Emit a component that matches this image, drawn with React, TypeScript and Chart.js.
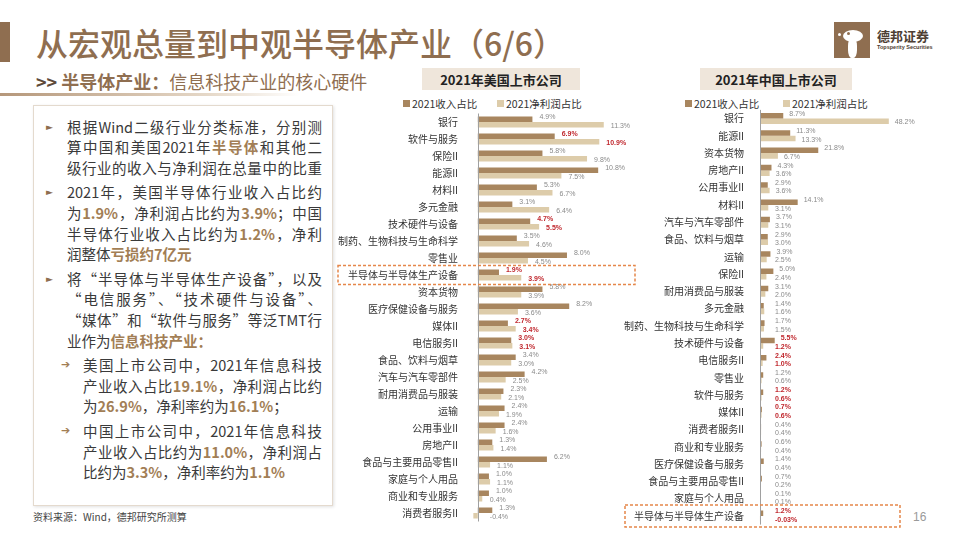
import React, { useEffect, useRef } from 'react';
import { Chart, registerables } from 'chart.js';

Chart.register(...registerables);

// ---------------- DATA ----------------
const usCategories = [
  '银行', '软件与服务', '保险II', '能源II', '材料II', '多元金融', '技术硬件与设备',
  '制药、生物科技与生命科学', '零售业', '半导体与半导体生产设备', '资本货物',
  '医疗保健设备与服务', '媒体II', '电信服务II', '食品、饮料与烟草', '汽车与汽车零部件',
  '耐用消费品与服装', '运输', '公用事业II', '房地产II', '食品与主要用品零售II',
  '家庭与个人用品', '商业和专业服务', '消费者服务II',
];
const usRevenue = [4.9, 6.9, 5.8, 10.8, 5.3, 3.1, 4.7, 3.5, 8.0, 1.9, 5.8, 8.2, 2.7, 3.0, 3.4, 4.2, 2.3, 2.4, 2.4, 1.3, 6.2, 1.0, 1.0, 1.3];
const usNetProfit = [11.3, 10.9, 9.8, 7.5, 6.7, 6.4, 5.5, 4.6, 4.5, 3.9, 3.9, 3.6, 3.4, 3.1, 3.0, 2.5, 2.1, 1.9, 1.6, 1.4, 1.1, 1.1, 0.4, -0.4];

const cnCategories = [
  '银行', '能源II', '资本货物', '房地产II', '公用事业II', '材料II', '汽车与汽车零部件',
  '食品、饮料与烟草', '运输', '保险II', '耐用消费品与服装', '多元金融',
  '制药、生物科技与生命科学', '技术硬件与设备', '电信服务II', '零售业', '软件与服务',
  '媒体II', '消费者服务II', '商业和专业服务', '医疗保健设备与服务', '食品与主要用品零售II',
  '家庭与个人用品', '半导体与半导体生产设备',
];
const cnRevenue = [8.7, 11.3, 21.8, 4.3, 2.9, 14.1, 3.7, 2.9, 3.9, 5.0, 3.1, 1.4, 1.7, 5.5, 2.4, 1.2, 1.2, 0.7, 0.4, 0.6, 1.4, 0.7, 0.1, 1.2];
const cnNetProfit = [48.2, 13.3, 6.7, 3.6, 3.6, 3.1, 3.1, 3.0, 2.5, 2.4, 2.0, 1.6, 1.5, 1.2, 1.0, 0.6, 0.6, 0.6, 0.4, 0.4, 0.4, 0.2, 0.1, -0.03];

const tmtCategories = ['软件与服务', '技术硬件与设备', '半导体与半导体生产设备', '媒体II', '电信服务II'];
const highlightCategory = '半导体与半导体生产设备';
const seriesLabels = ['2021收入占比', '2021净利润占比'];
const chartTitles = ['2021年美国上市公司', '2021年中国上市公司'];

const REV_COLOR = '#A8865F';
const NET_COLOR = '#DDCCAA';
const BROWN = '#8F6E50';
const HL = '#A27E55';
const CJK = '"Noto Sans CJK SC", "Noto Sans", sans-serif';

// --------------- TEXT ----------------
const paragraphs = [
  { level: 0, lines: ['根据Wind二级行业分类标准，分别测', '算中国和美国2021年【半导体】和其他二', '级行业的收入与净利润在总量中的比重'], justifyLast: true },
  { level: 0, lines: ['2021年，美国半导体行业收入占比约', '为【1.9%】，净利润占比约为【3.9%】；中国', '半导体行业收入占比约为【1.2%】，净利', '润整体【亏损约7亿元】'], justifyLast: false },
  { level: 0, lines: ['将“半导体与半导体生产设备”，以及', '“电信服务”、“技术硬件与设备”、', '“媒体”和“软件与服务”等泛TMT行', '业作为【信息科技产业：】'], justifyLast: false },
  { level: 1, lines: ['美国上市公司中，2021年信息科技', '产业收入占比【19.1%】，净利润占比约', '为【26.9%】，净利率约为【16.1%】；'], justifyLast: false },
  { level: 1, lines: ['中国上市公司中，2021年信息科技', '产业收入占比约为【11.0%】，净利润占', '比约为【3.3%】，净利率约为【1.1%】'], justifyLast: false },
];

function renderRich(line: string) {
  const parts = line.split(/(【[^】]*】)/).filter((p) => p.length > 0);
  return parts.map((p, i) =>
    p.startsWith('【') ? (
      <span key={i} style={{ color: HL, fontWeight: 700 }}>{p.slice(1, -1)}</span>
    ) : (
      <span key={i}>{p}</span>
    )
  );
}

function formatPct(v: number) {
  const t = v * 10;
  const s = Math.abs(t - Math.round(t)) < 1e-6 ? v.toFixed(1) : v.toFixed(2);
  return s + '%';
}

type PanelCfg = {
  left: number; top: number; width: number; height: number;
  axisWidth: number; padTop: number; padBottom: number;
  min: number; max: number; labelGap: number; labelMin: number;
  boxLeft: number; boxRightInset: number; boxHalf: number;
};

function BarPanel({ categories, revenue, net, cfg }: { categories: string[]; revenue: number[]; net: number[]; cfg: PanelCfg }) {
  const ref = useRef<HTMLCanvasElement | null>(null);
  useEffect(() => {
    const canvas = ref.current!;
    const decor = {
      id: 'decor',
      afterDatasetsDraw(chart: any) {
        const ctx = chart.ctx;
        const xs = chart.scales.x;
        const zero = xs.getPixelForValue(0);
        const area = chart.chartArea;
        ctx.save();
        ctx.strokeStyle = '#A0A0A0';
        ctx.lineWidth = 1;
        ctx.beginPath();
        ctx.moveTo(Math.round(zero) + 0.5, area.top);
        ctx.lineTo(Math.round(zero) + 0.5, area.bottom);
        ctx.stroke();
        chart.data.datasets.forEach((ds: any, i: number) => {
          const meta = chart.getDatasetMeta(i);
          meta.data.forEach((bar: any, j: number) => {
            const v = ds.data[j] as number;
            const tmt = tmtCategories.includes(categories[j]);
            ctx.font = `${tmt ? 'bold ' : ''}7px "Liberation Sans", Arial, sans-serif`;
            ctx.fillStyle = tmt ? '#C0282E' : '#8A8A8A';
            ctx.textAlign = 'left';
            ctx.textBaseline = 'middle';
            const x = Math.max(Math.max(bar.x, bar.base) + cfg.labelGap, zero + cfg.labelMin);
            const y = bar.y + (i === 0 ? -2 : 1);
            ctx.fillText(formatPct(v), x, y);
          });
        });
        ctx.restore();
      },
      afterDraw(chart: any) {
        const ctx = chart.ctx;
        const ys = chart.scales.y;
        const idx = categories.indexOf(highlightCategory);
        if (idx < 0) return;
        const c = ys.getPixelForValue(idx);
        const x0 = cfg.boxLeft;
        const x1 = chart.chartArea.right - cfg.boxRightInset;
        ctx.save();
        ctx.strokeStyle = '#E5874A';
        ctx.lineWidth = 1.5;
        ctx.setLineDash([3, 2]);
        ctx.strokeRect(x0, c - cfg.boxHalf, x1 - x0, cfg.boxHalf * 2);
        ctx.restore();
      },
    };
    const chart = new Chart(canvas, {
      type: 'bar',
      data: {
        labels: categories,
        datasets: [
          { label: seriesLabels[0], data: revenue, backgroundColor: REV_COLOR, borderWidth: 0, categoryPercentage: 0.64, barPercentage: 1 },
          { label: seriesLabels[1], data: net, backgroundColor: NET_COLOR, borderWidth: 0, categoryPercentage: 0.64, barPercentage: 1 },
        ],
      },
      options: {
        indexAxis: 'y',
        responsive: false,
        animation: false,
        layout: { padding: { top: cfg.padTop, bottom: cfg.padBottom, left: 0, right: 0 } },
        plugins: { legend: { display: false }, tooltip: { enabled: false } },
        scales: {
          x: { display: false, min: cfg.min, max: cfg.max },
          y: {
            grid: { display: false },
            border: { display: false },
            ticks: {
              autoSkip: false,
              padding: 4,
              color: '#333333',
              font: { family: CJK, size: 10 },
            },
            afterFit: (scale: any) => {
              scale.width = cfg.axisWidth;
              scale.paddingTop = 0;
              scale.paddingBottom = 0;
            },
          },
        },
      },
      plugins: [decor],
    } as any);
    return () => chart.destroy();
  }, []);
  return (
    <canvas
      ref={ref}
      width={cfg.width}
      height={cfg.height}
      style={{ position: 'absolute', left: cfg.left, top: cfg.top, width: cfg.width, height: cfg.height }}
    />
  );
}

const usCfg: PanelCfg = {
  left: 325, top: 110, width: 320, height: 420, axisWidth: 145, padTop: 3.5, padBottom: 8.5,
  min: -0.7, max: 15, labelGap: 7, labelMin: 12, boxLeft: 13, boxRightInset: 10, boxHalf: 9.5,
};
const cnCfg: PanelCfg = {
  left: 612, top: 106, width: 303, height: 424, axisWidth: 144, padTop: 3.9, padBottom: 5.4,
  min: -1.5, max: 58, labelGap: 6, labelMin: 15, boxLeft: 13, boxRightInset: 15, boxHalf: 11,
};

function Legend({ left, secondLeft }: { left: number; secondLeft: number }) {
  const item = (x: number, color: string, text: string) => (
    <div style={{ position: 'absolute', left: x, top: 96, height: 14, display: 'flex', alignItems: 'center', fontFamily: CJK, fontSize: 10.5, color: '#333', whiteSpace: 'nowrap' }}>
      <span style={{ display: 'inline-block', width: 7, height: 7, background: color, marginRight: 2 }} />
      {text}
    </div>
  );
  return (
    <>
      {item(left, REV_COLOR, seriesLabels[0])}
      {item(secondLeft, NET_COLOR, seriesLabels[1])}
    </>
  );
}

export default function App() {
  return (
    <div style={{ position: 'absolute', left: 0, top: 0, width: 960, height: 540, background: '#fff', overflow: 'hidden', fontFamily: CJK }}>
      {/* title */}
      <div style={{ position: 'absolute', left: 0, top: 22, width: 10, height: 40, background: BROWN }} />
      <div style={{ position: 'absolute', left: 36, top: 20, fontSize: 32, lineHeight: '44px', color: BROWN, fontWeight: 500, whiteSpace: 'nowrap' }}>
        从宏观总量到中观半导体产业（6/6）
      </div>
      <div style={{ position: 'absolute', left: 36, top: 70, fontSize: 18, lineHeight: '22px', color: BROWN, whiteSpace: 'nowrap' }}>
        <span style={{ color: '#5E4A3A', fontWeight: 700 }}>&gt;&gt; </span>
        <span style={{ fontWeight: 700 }}>半导体产业：</span>
        <span>信息科技产业的核心硬件</span>
      </div>
      <div style={{ position: 'absolute', left: 0, top: 93, width: 300, height: 3, background: 'linear-gradient(to right, #B5977A, #E6D9C9 70%, rgba(255,255,255,0))' }} />

      {/* logo */}
      <div style={{ position: 'absolute', left: 834, top: 22, width: 36, height: 36, background: BROWN, overflow: 'hidden' }}>
        <div style={{ position: 'absolute', left: 9, top: 8, width: 20, height: 12, borderRadius: '50%', background: '#fff' }} />
        <div style={{ position: 'absolute', left: 14, top: 16, width: 9, height: 20, borderRadius: '40%', background: '#fff' }} />
        <div style={{ position: 'absolute', left: 4, top: 11, width: 3, height: 3, borderRadius: '50%', background: '#fff' }} />
        <div style={{ position: 'absolute', left: 13, top: 10, width: 3, height: 3, borderRadius: '50%', background: BROWN }} />
      </div>
      <div style={{ position: 'absolute', left: 877, top: 28, fontSize: 13, lineHeight: '15px', fontWeight: 700, color: '#4D3E33', whiteSpace: 'nowrap' }}>德邦证券</div>
      <div style={{ position: 'absolute', left: 877, top: 44, fontSize: 5.5, lineHeight: '7px', fontWeight: 700, color: '#4D3E33', fontFamily: '"Liberation Sans", Arial, sans-serif', whiteSpace: 'nowrap' }}>Topsperity Securities</div>

      {/* chart headers */}
      <div style={{ position: 'absolute', left: 422, top: 68, width: 158, height: 22, background: '#EFE6DB', display: 'flex', alignItems: 'center', justifyContent: 'center', fontWeight: 700, fontSize: 13, color: '#222' }}>{chartTitles[0]}</div>
      <div style={{ position: 'absolute', left: 700, top: 68, width: 152, height: 22, background: '#EFE6DB', display: 'flex', alignItems: 'center', justifyContent: 'center', fontWeight: 700, fontSize: 13, color: '#222' }}>{chartTitles[1]}</div>
      <Legend left={403} secondLeft={497} />
      <Legend left={685} secondLeft={783} />

      {/* text box */}
      <div style={{ position: 'absolute', left: 33, top: 105, width: 298, height: 399, border: '1px solid #E4DACE', boxShadow: '1px 1px 3px rgba(0,0,0,0.12)' }} />
      <div style={{ position: 'absolute', left: 0, top: 116.7, width: 340 }}>
        {paragraphs.map((p, pi) => {
          const textX = p.level === 0 ? 67 : 83;
          const markX = p.level === 0 ? 46 : 61;
          return (
            <div key={pi} style={{ position: 'relative', marginTop: pi === 0 ? 0 : 4 }}>
              <div style={{ position: 'absolute', left: markX, top: 0, lineHeight: '20.6px', fontSize: p.level === 0 ? 9 : 11, color: p.level === 0 ? BROWN : HL, fontWeight: 700, fontFamily: '"DejaVu Sans", sans-serif' }}>
                {p.level === 0 ? '►' : '➔'}
              </div>
              {p.lines.map((ln, li) => {
                const isLast = li === p.lines.length - 1;
                const justify = !isLast || p.justifyLast;
                return (
                  <div
                    key={li}
                    style={{
                      marginLeft: textX,
                      width: 322 - textX,
                      height: 20.6,
                      lineHeight: '20.6px',
                      fontSize: 14.5,
                      color: '#3A3A3A',
                      textAlign: justify ? 'justify' : 'left',
                      textAlignLast: justify ? 'justify' : 'left',
                      overflow: 'visible',
                    } as any}
                  >
                    {renderRich(ln)}
                  </div>
                );
              })}
            </div>
          );
        })}
      </div>
      <div style={{ position: 'absolute', left: 33, top: 510, fontSize: 10, lineHeight: '14px', color: '#444', whiteSpace: 'nowrap' }}>资料来源：Wind，德邦研究所测算</div>
      <div style={{ position: 'absolute', left: 913, top: 509, fontSize: 12, lineHeight: '16px', color: '#9A9A9A', fontFamily: '"Liberation Sans", Arial, sans-serif' }}>16</div>

      <BarPanel categories={usCategories} revenue={usRevenue} net={usNetProfit} cfg={usCfg} />
      <BarPanel categories={cnCategories} revenue={cnRevenue} net={cnNetProfit} cfg={cnCfg} />
    </div>
  );
}
